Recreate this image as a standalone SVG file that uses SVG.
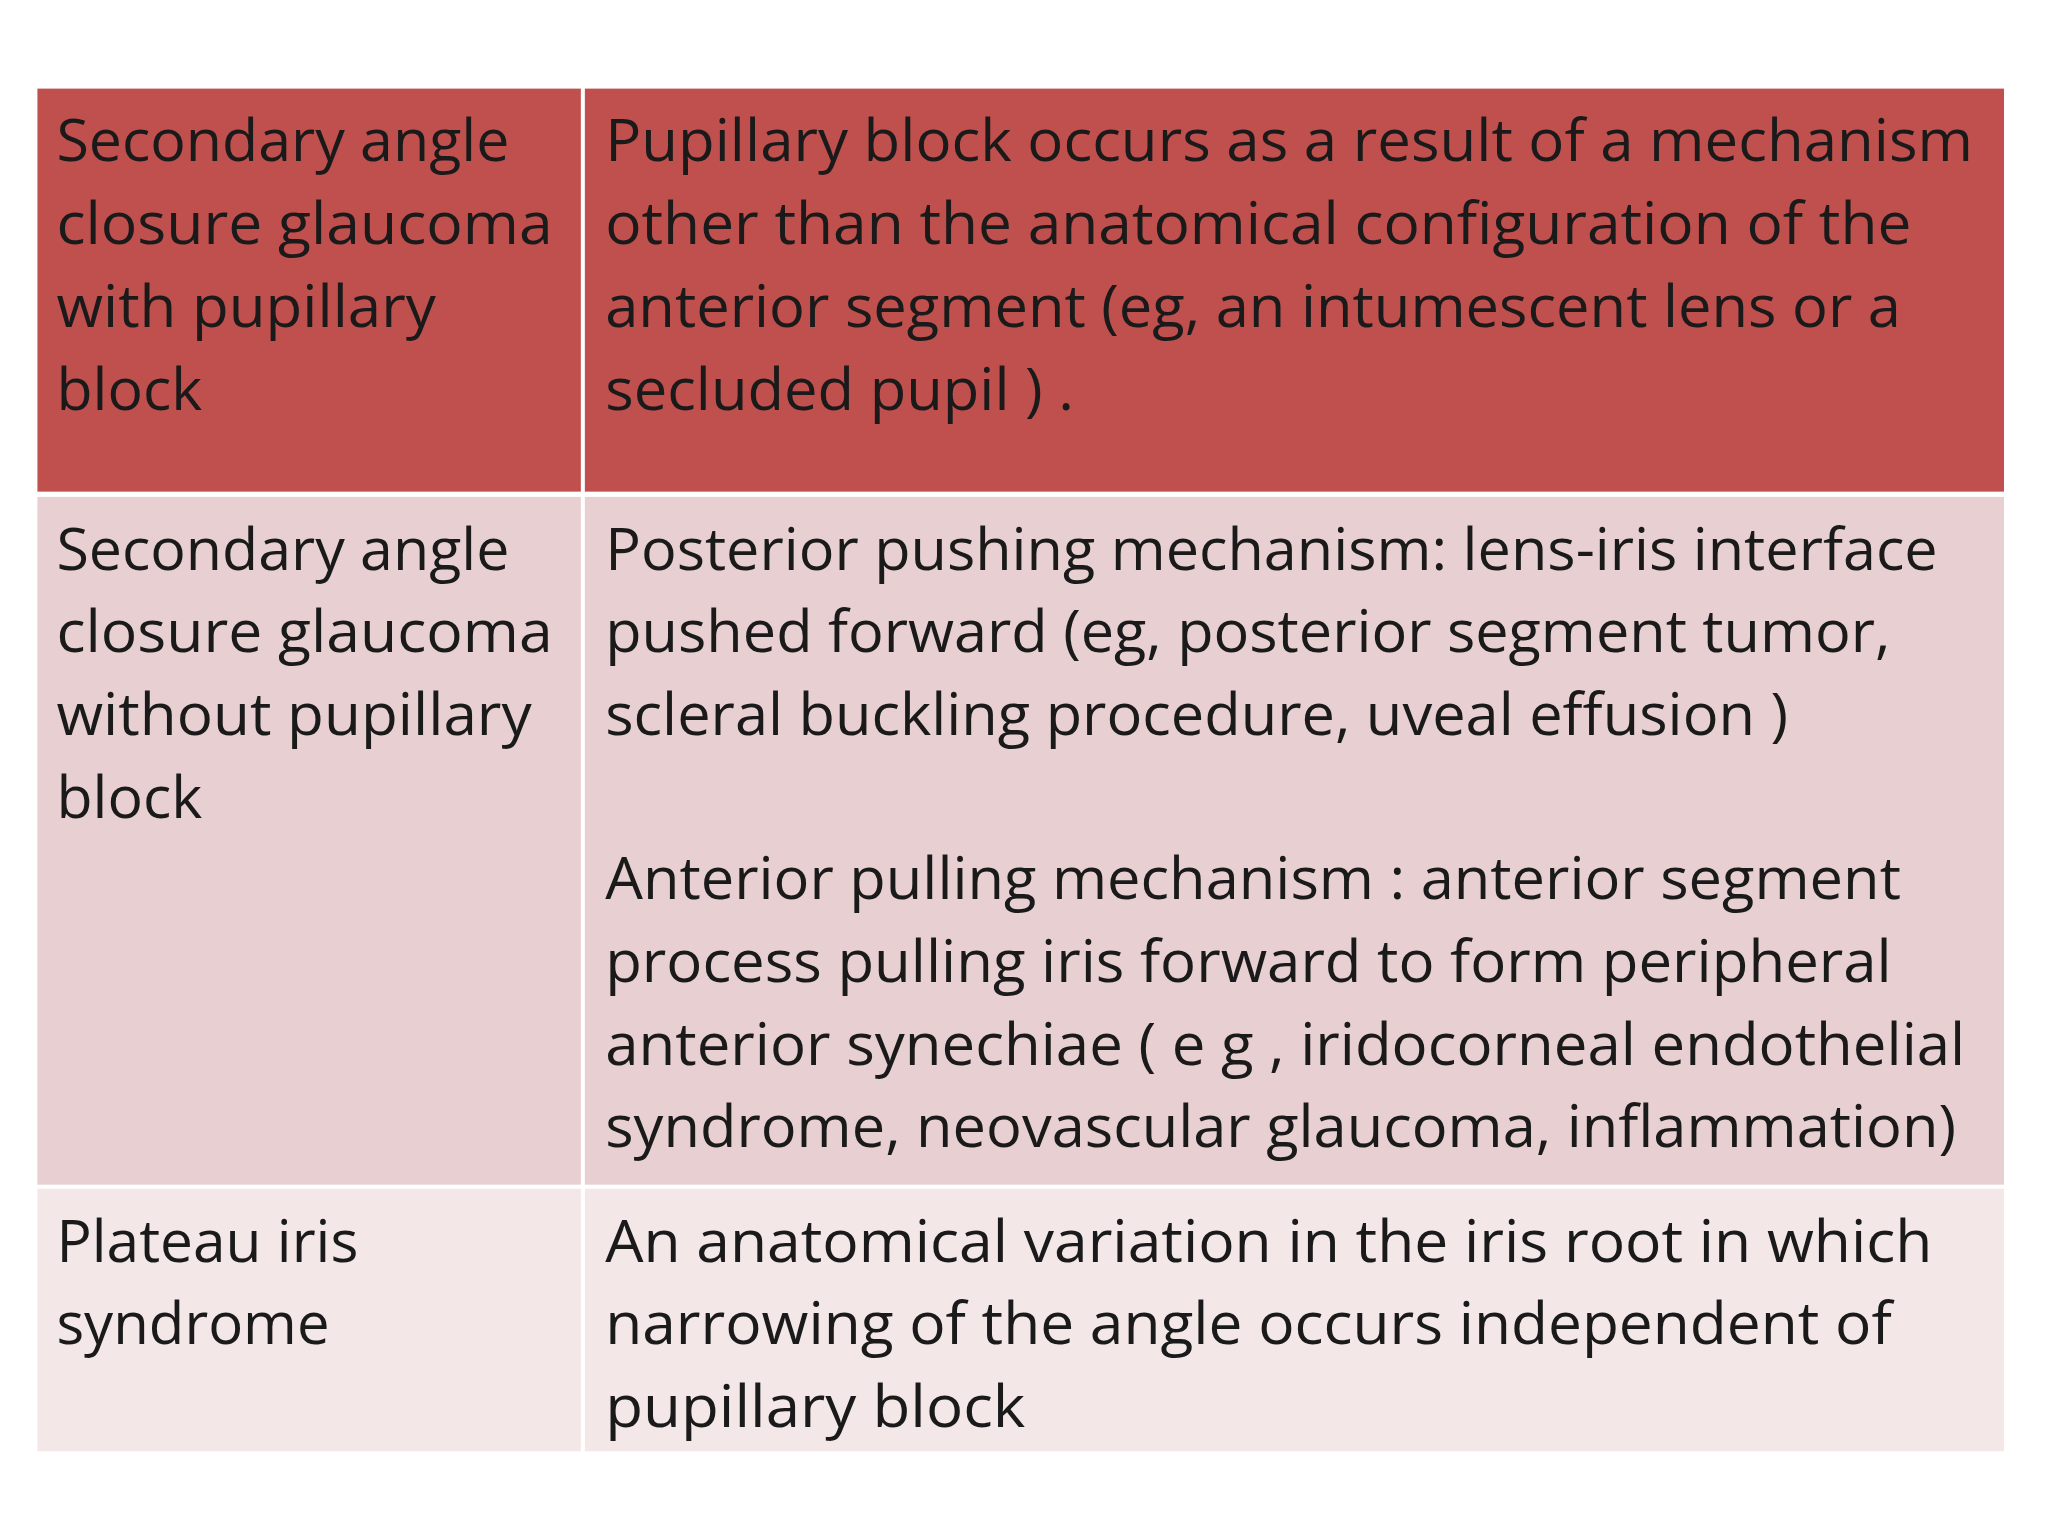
<svg xmlns="http://www.w3.org/2000/svg" width="2048" height="1536" viewBox="0 0 2048 1536" xml:space="preserve">
<style>
text{font-family:"Open Sans","Liberation Sans",sans-serif;font-size:44px;fill:#1a1a1a;lengthAdjust:spacingAndGlyphs}
.c{stroke:#fff;stroke-width:3}
</style>
<rect width="2048" height="1536" fill="#fff"/>
<g transform="scale(1.3128)">
<g id="row1">
<rect class="c" x="27" y="66" width="417" height="310" fill="#C0504D"/>
<rect class="c" x="444" y="66" width="1084" height="310" fill="#C0504D"/>
<text x="43" y="123" textLength="345" lengthAdjust="spacingAndGlyphs">Secondary angle</text>
<text x="43" y="186" textLength="378" lengthAdjust="spacingAndGlyphs">closure  glaucoma</text>
<text x="43" y="249" textLength="289" lengthAdjust="spacingAndGlyphs">with pupillary</text>
<text x="43" y="312" textLength="111" lengthAdjust="spacingAndGlyphs">block</text>
<text x="461" y="123" textLength="1042" lengthAdjust="spacingAndGlyphs">Pupillary block occurs  as a result of a mechanism</text>
<text x="461" y="186" textLength="995" lengthAdjust="spacingAndGlyphs">other than the anatomical configuration of  the</text>
<text x="461" y="249" textLength="987" lengthAdjust="spacingAndGlyphs">anterior segment (eg, an intumescent lens or a</text>
<text x="461" y="312" textLength="357" lengthAdjust="spacingAndGlyphs">secluded pupil ) .</text>
</g>
<g id="row2">
<rect class="c" x="27" y="377" width="417" height="527" fill="#E8CFD1"/>
<rect class="c" x="444" y="377" width="1084" height="527" fill="#E8CFD1"/>
<text x="43" y="434" textLength="345" lengthAdjust="spacingAndGlyphs">Secondary angle</text>
<text x="43" y="497" textLength="378" lengthAdjust="spacingAndGlyphs">closure  glaucoma</text>
<text x="43" y="560" textLength="362" lengthAdjust="spacingAndGlyphs">without pupillary</text>
<text x="43" y="623" textLength="111" lengthAdjust="spacingAndGlyphs">block</text>
<text x="461" y="434" textLength="1015" lengthAdjust="spacingAndGlyphs">Posterior pushing mechanism: lens-iris interface</text>
<text x="461" y="497" textLength="979" lengthAdjust="spacingAndGlyphs">pushed forward (eg, posterior segment tumor,</text>
<text x="461" y="560" textLength="901" lengthAdjust="spacingAndGlyphs">scleral buckling procedure, uveal effusion )</text>
<text x="461" y="685" textLength="987" lengthAdjust="spacingAndGlyphs">Anterior pulling mechanism : anterior segment</text>
<text x="461" y="748" textLength="980" lengthAdjust="spacingAndGlyphs">process  pulling iris forward to form peripheral</text>
<text x="461" y="811" textLength="1036" lengthAdjust="spacingAndGlyphs">anterior synechiae ( e g , iridocorneal endothelial</text>
<text x="461" y="874" textLength="1029" lengthAdjust="spacingAndGlyphs">syndrome, neovascular glaucoma, inflammation)</text>
</g>
<g id="row3">
<rect class="c" x="27" y="904" width="417" height="203" fill="#F3E7E8"/>
<rect class="c" x="444" y="904" width="1084" height="203" fill="#F3E7E8"/>
<text x="43" y="961" textLength="230" lengthAdjust="spacingAndGlyphs">Plateau iris</text>
<text x="43" y="1024" textLength="208" lengthAdjust="spacingAndGlyphs">syndrome</text>
<text x="461" y="961" textLength="1011" lengthAdjust="spacingAndGlyphs">An anatomical variation in the iris root in  which</text>
<text x="461" y="1024" textLength="980" lengthAdjust="spacingAndGlyphs">narrowing of the angle  occurs independent of</text>
<text x="461" y="1087" textLength="320" lengthAdjust="spacingAndGlyphs">pupillary  block</text>
</g>
</g>
</svg>
